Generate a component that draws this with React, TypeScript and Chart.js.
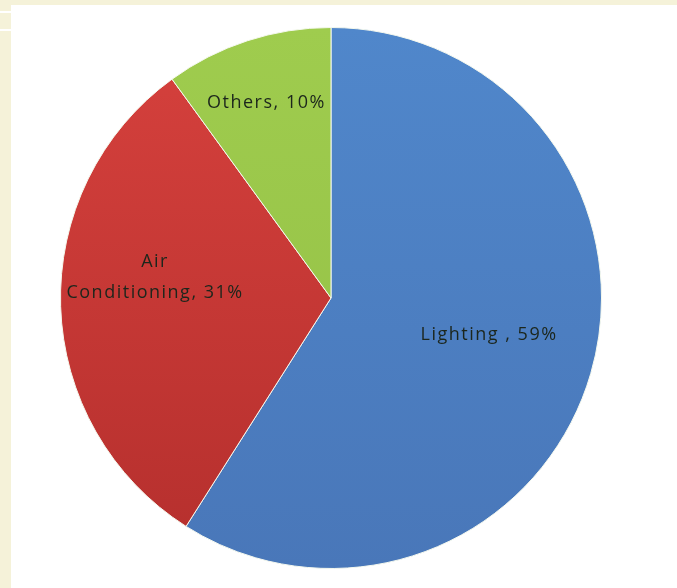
import React, { useEffect, useRef } from "react";
import { Chart, registerables } from "chart.js";

Chart.register(...registerables);

const categories = ["Lighting ", "Air Conditioning", "Others"];
const values = [59, 31, 10];
const labelLines = [["Lighting , 59%"], ["Air", "Conditioning, 31%"], ["Others, 10%"]];
const topColors = ["#5087cb", "#d6413d", "#9fcc4e"];
const bottomColors = ["#4977b9", "#b52f2d", "#93bf45"];

// label placement: fraction of radius and angular offset (deg) from slice mid
const placement = [
  { f: 0.6, da: -3.1 },
  { f: 0.655, da: 8.6 },
  { f: 0.76, da: -0.3 },
];

const labelPlugin = {
  id: "sliceLabels",
  afterDatasetsDraw(chart: any) {
    const ctx = chart.ctx;
    const meta = chart.getDatasetMeta(0);
    ctx.save();
    ctx.font = "500 18px 'Open Sans', 'Liberation Sans', sans-serif";
    ctx.fillStyle = "#1c261c";
    ctx.textAlign = "center";
    ctx.textBaseline = "middle";
    (ctx as any).letterSpacing = "1.5px";
    meta.data.forEach((arc: any, i: number) => {
      const { x, y, startAngle, endAngle, outerRadius } = arc.getProps(
        ["x", "y", "startAngle", "endAngle", "outerRadius"],
        true
      );
      const p = placement[i];
      const mid = (startAngle + endAngle) / 2 + (p.da * Math.PI) / 180;
      const cx = x + Math.cos(mid) * outerRadius * p.f;
      const cy = y + Math.sin(mid) * outerRadius * p.f;
      const lines = labelLines[i];
      const lh = 31;
      lines.forEach((t, k) => {
        ctx.fillText(t, cx, cy + (k - (lines.length - 1) / 2) * lh);
      });
    });
    ctx.restore();
  },
};

export default function App() {
  const ref = useRef<HTMLCanvasElement>(null);
  useEffect(() => {
    document.body.style.margin = "0";
    const chart = new Chart(ref.current!, {
      type: "pie",
      data: {
        labels: categories,
        datasets: [
          {
            data: values,
            backgroundColor: (c: any) => {
              const area = c.chart.chartArea;
              if (!area) return topColors[c.dataIndex];
              const g = c.chart.ctx.createLinearGradient(0, area.top, 0, area.bottom);
              g.addColorStop(0, topColors[c.dataIndex]);
              g.addColorStop(1, bottomColors[c.dataIndex]);
              return g;
            },
            borderColor: "#f4f8ee",
            borderWidth: 1,
          },
        ],
      },
      options: {
        responsive: false,
        animation: false,
        rotation: 0,
        layout: { padding: { left: 60, right: 75, top: 27, bottom: 19 } },
        plugins: {
          legend: { display: false },
          tooltip: { enabled: false },
        },
      },
      plugins: [labelPlugin],
    });
    return () => chart.destroy();
  }, []);
  return (
    <div style={{ position: "relative", width: 677, height: 588, background: "#f5f2d9", overflow: "hidden" }}>
      <div style={{ position: "absolute", left: 11, top: 5, right: 0, bottom: 0, background: "#ffffff" }} />
      <div style={{ position: "absolute", left: 0, top: 11, width: 11, height: 2, background: "#ffffff" }} />
      <div style={{ position: "absolute", left: 0, top: 29, width: 11, height: 2, background: "#ffffff" }} />
      <canvas ref={ref} width={677} height={588} style={{ position: "absolute", left: 0, top: 0 }} />
    </div>
  );
}
